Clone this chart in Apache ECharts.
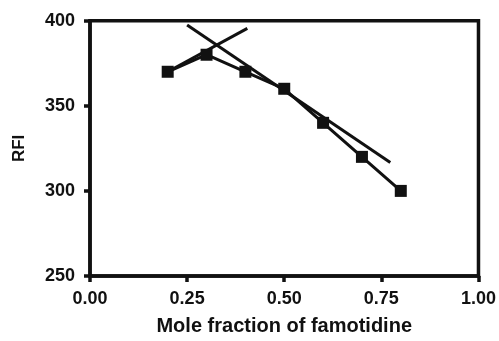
<!DOCTYPE html>
<html>
<head>
<meta charset="utf-8">
<script src="https://cdn.jsdelivr.net/npm/echarts@6/dist/echarts.min.js"></script>
<style>
  html, body { margin: 0; padding: 0; background: #fff; }
  #chart { width: 499px; height: 341px; }
</style>
</head>
<body>
<div id="chart"></div>
<script>
// Mole fraction (Job's method) data
const moleFraction = [0.2, 0.3, 0.4, 0.5, 0.6, 0.7, 0.8];
const rfi = [370, 380, 370, 360, 340, 320, 300];

// Tangent lines drawn on the two branches
const risingTangent = [[0.2, 370], [0.405, 395.5]];
const fallingTangent = [[0.25, 397.5], [0.773, 316.7]];

const xTicks = [0, 0.25, 0.5, 0.75, 1.0];
const yTicks = [250, 300, 350, 400];

const ink = '#111';
const font = '"Liberation Sans", Arial, Helvetica, sans-serif';

const chart = echarts.init(document.getElementById('chart'), null, { renderer: 'canvas' });

chart.setOption({
  animation: false,
  backgroundColor: '#fff',
  grid: {
    left: 90, right: 19, top: 20.7, bottom: 61.7,
    show: true, borderColor: ink, borderWidth: 3.5, backgroundColor: 'transparent'
  },
  xAxis: {
    type: 'value',
    min: xTicks[0], max: xTicks[xTicks.length - 1], interval: 0.25,
    name: 'Mole fraction of famotidine',
    nameLocation: 'middle', nameGap: 40,
    nameTextStyle: { color: ink, fontFamily: font, fontWeight: 'bold', fontSize: 20 },
    axisLine: { lineStyle: { color: ink, width: 3.5 } },
    axisTick: { show: true, inside: false, length: 6, lineStyle: { color: ink, width: 3.5 } },
    axisLabel: {
      color: ink, fontFamily: font, fontWeight: 'bold', fontSize: 18, margin: 14,
      formatter: v => v.toFixed(2)
    },
    splitLine: { show: false }
  },
  yAxis: {
    type: 'value',
    min: yTicks[0], max: yTicks[yTicks.length - 1], interval: 50,
    name: 'RFI',
    nameLocation: 'middle', nameGap: 62,
    nameTextStyle: { color: ink, fontFamily: font, fontWeight: 'bold', fontSize: 17 },
    axisLine: { lineStyle: { color: ink, width: 3.5 } },
    axisTick: { show: true, inside: false, length: 6, lineStyle: { color: ink, width: 3.5 } },
    axisLabel: { color: ink, fontFamily: font, fontWeight: 'bold', fontSize: 18, margin: 15 },
    splitLine: { show: false }
  },
  series: [
    {
      type: 'line',
      data: risingTangent,
      showSymbol: false, symbol: 'none',
      lineStyle: { color: ink, width: 3 },
      z: 2
    },
    {
      type: 'line',
      data: fallingTangent,
      showSymbol: false, symbol: 'none',
      lineStyle: { color: ink, width: 3 },
      z: 2
    },
    {
      type: 'line',
      data: moleFraction.map((x, i) => [x, rfi[i]]),
      symbol: 'rect', symbolSize: 12,
      itemStyle: { color: ink },
      lineStyle: { color: ink, width: 3 },
      z: 3
    }
  ]
});
</script>
</body>
</html>
